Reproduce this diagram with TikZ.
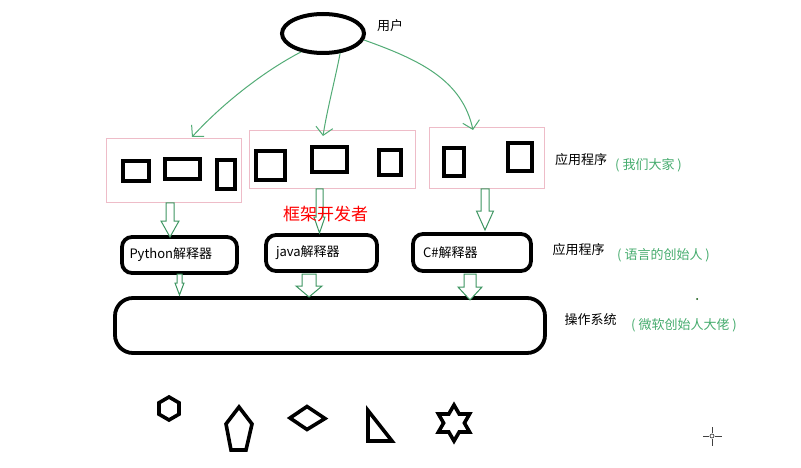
\documentclass[tikz,border=0pt]{standalone}
\usepackage{fontspec}
\setmainfont{Noto Sans CJK SC}
\usetikzlibrary{arrows.meta,shapes.geometric}
\definecolor{pinkline}{RGB}{238,188,200}
\definecolor{thingreen}{RGB}{82,172,118}
\definecolor{blockgreen}{RGB}{62,150,98}
\definecolor{labelgreen}{RGB}{70,172,110}
\newcommand\fatarrow[6]{%
  \draw[blockarrow] (#1-#5,#2) -- (#1-#5,#3) -- (#1-#6,#3) -- (#1,#4) -- (#1+#6,#3) -- (#1+#5,#3) -- (#1+#5,#2) -- cycle;}
\begin{document}
\begin{tikzpicture}[x=1pt,y=-1pt,
  blk/.style={draw=black,line width=4pt,line join=miter},
  appbox/.style={draw=pinkline,line width=1pt,inner sep=0pt},
  interp/.style={draw=black,line width=3.8pt,rounded corners=10pt,inner ysep=0pt,align=left,
    font=\fontsize{13}{15}\selectfont},
  thinarrow/.style={draw=thingreen,line width=1pt,-{Straight Barb[length=8pt,width=17pt]}},
  blockarrow/.style={draw=blockgreen,line width=1pt,fill=white,line join=miter},
  lbl/.style={font=\fontsize{13}{15}\selectfont,inner sep=0pt},
  glbl/.style={font=\fontsize{13}{15}\selectfont,text=labelgreen,inner sep=0pt},
  shp/.style={draw=black,line width=3.6pt,line join=miter}]
\useasboundingbox (0,0) rectangle (801,468);
\fill[white] (0,0) rectangle (801,468);

% user
\node[ellipse,blk,minimum width=82pt,minimum height=39pt,inner sep=0pt] (user) at (323,33.5) {};
\node[lbl] (userlbl) at (390,26) {用户};

% application boxes
\node[appbox,minimum width=135pt,minimum height=64pt] (app1) at (173.5,171) {};
\node[appbox,minimum width=166pt,minimum height=58pt] (app2) at (332,160) {};
\node[appbox,minimum width=115pt,minimum height=61pt] (app3) at (486.5,158.5) {};

% small windows
\draw[blk] (123,161) rectangle (149,181);
\draw[blk] (165,159) rectangle (200,179);
\draw[blk] (217,160) rectangle (235,189);
\draw[blk] (256,151) rectangle (285,180);
\draw[blk] (312,147) rectangle (347,172);
\draw[blk] (379,150) rectangle (401,175);
\draw[blk] (444,148) rectangle (464,176);
\draw[blk] (508,143) rectangle (532,171);

% arrows from user
\coordinate (t1) at (192,137);
\coordinate (t2) at (323,136);
\coordinate (t3) at (473,130);
\draw[thinarrow] (user.220) .. controls (266,70) and (224,102) .. (t1);
\draw[thinarrow] (user.-49) .. controls (335,80) and (327,110) .. (t2);
\draw[thinarrow] (user.-9) .. controls (420,60) and (462,80) .. (t3);

% interpreters
\node[interp,minimum width=115pt,minimum height=36pt,inner xsep=7.5pt,text width=100pt] (py) at (179.5,255) {Python解释器};
\node[interp,minimum width=111pt,minimum height=36pt,inner xsep=10pt,text width=91pt] (java) at (321.5,253) {java解释器};
\node[interp,minimum width=118pt,minimum height=37pt,inner xsep=10pt,text width=98pt] (cs) at (472,252.5) {C\#解释器};

% operating system
\node[draw=black,line width=3.8pt,rounded corners=18pt,minimum width=430pt,minimum height=55pt,inner sep=0pt] (os) at (330,325.5) {};

% block arrows
\fatarrow{170}{203}{221}{237}{4}{9}
\fatarrow{319.5}{189}{217}{233}{3.5}{5.5}
\fatarrow{485}{189}{211}{230}{4}{8.5}
\fatarrow{179.5}{274}{283}{295}{2.5}{4.5}
\fatarrow{309}{274}{286}{297}{7}{13}
\fatarrow{470}{274}{287}{300}{6}{12}

% framework developers
\node[font=\fontsize{17}{20}\selectfont,text=red,inner sep=0pt] (fw) at (325.5,214) {框架开发者};

% right labels
\node[lbl] (l1) at (581,160) {应用程序};
\node[glbl] (g1) at (648.5,165) {(\ 我们大家\ )};
\node[lbl] (l2) at (578.5,250) {应用程序};
\node[glbl] (g2) at (663.5,255) {(\ 语言的创始人\ )};
\node[lbl] (l3) at (590.5,320) {操作系统};
\node[glbl] (g3) at (684,325) {(\ 微软创始人大佬\ )};

% stray dot and cursor
\fill[black!70!green] (697,299) circle (1pt);
\begin{scope}[draw=black!75,line width=1pt]
  \draw (703,436) -- (709,436);
  \draw (715,436) -- (722,436);
  \draw (712,427) -- (712,433);
  \draw (712,439) -- (712,446);
  \draw[line width=0.7pt] (712,436) circle (2pt);
\end{scope}

% shapes
\draw[shp,shift={(169,408.5)}] (90:11.5) -- (150:11.5) -- (210:11.5) -- (270:11.5) -- (330:11.5) -- (30:11.5) -- cycle;
\draw[shp] (239,407) -- (252,424) -- (246,450) -- (231,450) -- (226,424) -- cycle;
\draw[shp] (290,418) -- (307,406.5) -- (325,418.5) -- (307,429.5) -- cycle;
\draw[shp] (368,410.5) -- (392,441) -- (368,441) -- cycle;
\draw[shp,shift={(454,423)}] (90:18) -- (120:10.4) -- (150:18) -- (180:10.4) -- (210:18) -- (240:10.4) -- (270:18) -- (300:10.4) -- (330:18) -- (0:10.4) -- (30:18) -- (60:10.4) -- cycle;
\end{tikzpicture}
\end{document}
